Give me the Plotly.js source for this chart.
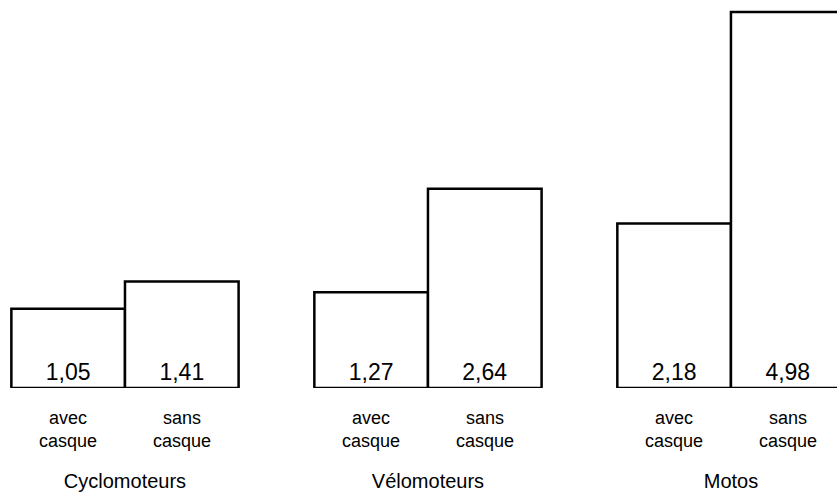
<!DOCTYPE html>
<html>
<head>
<meta charset="utf-8">
<script src="https://cdn.plot.ly/plotly-3.0.1.min.js"></script>
<style>html,body{margin:0;padding:0;background:#fff;}#chart{width:837px;height:492px;}</style>
</head>
<body>
<div id="chart"></div>
<script>
const groups = ['Cyclomoteurs', 'Vélomoteurs', 'Motos'];
const avecCasque = [1.05, 1.27, 2.18];
const sansCasque = [1.41, 2.64, 4.98];
const seriesNames = ['avec<br>casque', 'sans<br>casque'];

const fmt = v => v.toFixed(2).replace('.', ',');
const FONT = 'Liberation Sans, Arial, Helvetica, sans-serif';
const BARGAP = 0.25;

const barStyle = {
  type: 'bar',
  marker: {color: '#ffffff', line: {color: '#000000', width: 2.5}},
  textposition: 'inside',
  insidetextanchor: 'start',
  textangle: 0,
  textfont: {family: FONT, size: 23, color: '#000000'},
  hoverinfo: 'skip',
  showlegend: false
};

const data = [
  Object.assign({}, barStyle, {x: groups, y: avecCasque, text: avecCasque.map(fmt), name: 'avec casque'}),
  Object.assign({}, barStyle, {x: groups, y: sansCasque, text: sansCasque.map(fmt), name: 'sans casque'})
];

const barW = (1 - BARGAP) / 2;
const annotations = [];
groups.forEach((g, i) => {
  seriesNames.forEach((s, j) => {
    annotations.push({
      x: i + (j - 0.5) * barW, xref: 'x',
      y: 0, yref: 'y', yanchor: 'top', yshift: -18,
      text: s, showarrow: false,
      font: {family: FONT, size: 18, color: '#000000'}
    });
  });
});

const layout = {
  width: 837, height: 492,
  margin: {l: 0, r: 0, t: 0, b: 104, pad: 0},
  paper_bgcolor: '#ffffff', plot_bgcolor: '#ffffff',
  barmode: 'group', bargap: BARGAP, bargroupgap: 0,
  xaxis: {
    type: 'category', range: [-0.4125, 2.35],
    showgrid: false, zeroline: false, showline: false, ticks: '',
    ticklabelstandoff: 79,
    tickfont: {family: FONT, size: 20, color: '#000000'}
  },
  yaxis: {
    range: [0, 5.14], visible: false, showgrid: false, zeroline: false
  },
  annotations: annotations,
  uniformtext: {mode: false}
};

Plotly.newPlot('chart', data, layout, {displayModeBar: false, staticPlot: true});
</script>
</body>
</html>
